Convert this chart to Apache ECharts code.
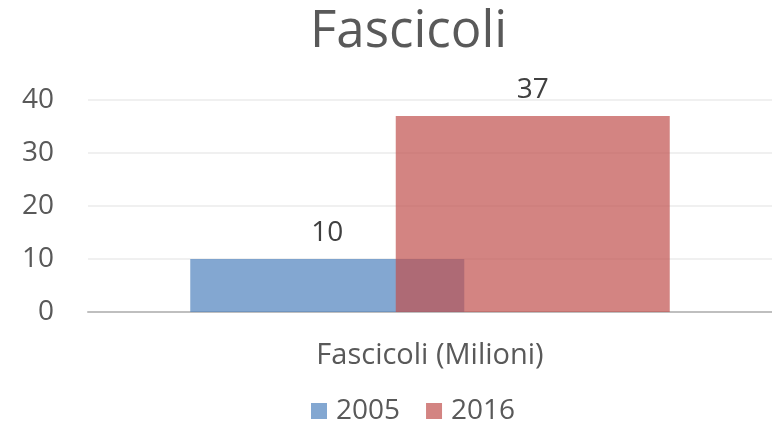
<!DOCTYPE html>
<html><head><meta charset="utf-8">
<script src="https://cdn.jsdelivr.net/npm/echarts@6/dist/echarts.min.js"></script>
<style>html,body{margin:0;padding:0;background:#fff}#c{width:772px;height:428px}</style>
</head><body><div id="c"></div>
<script>
const categories = ['Fascicoli (Milioni)'];
const seriesNames = ['2005', '2016'];
const values2005 = [10];
const values2016 = [37];
const yTicks = [0, 10, 20, 30, 40];

const font = '"Open Sans", sans-serif';
const chart = echarts.init(document.getElementById('c'));
chart.setOption({
  animation: false,
  title: { text: 'Fascicoli', left: 305, top: 2, textStyle: { fontFamily: font, fontSize: 51, fontWeight: 'normal', color: '#595959' } },
  legend: { bottom: -2, left: 306, itemWidth: 16, itemHeight: 16, itemGap: 26, icon: 'rect',
    textStyle: { fontFamily: font, fontSize: 28, color: '#595959', padding: [0, 0, 0, 4] }, data: seriesNames },
  grid: { left: 88, right: 0, top: 100, bottom: 116 },
  xAxis: { type: 'category', data: categories,
    axisLine: { lineStyle: { color: '#bfbfbf', width: 2 } }, axisTick: { show: false },
    axisLabel: { fontFamily: font, fontSize: 29, color: '#595959', margin: 29 } },
  yAxis: { type: 'value', min: yTicks[0], max: yTicks[yTicks.length - 1], interval: 10,
    axisLine: { show: false }, axisTick: { show: false },
    axisLabel: { fontFamily: font, fontSize: 28, color: '#595959', margin: 34 },
    splitLine: { lineStyle: { color: '#f0f0f0', width: 2 } } },
  series: [
    { name: seriesNames[0], type: 'bar', data: values2005, barWidth: 274, barGap: '-25%',
      itemStyle: { color: 'rgba(79,129,189,0.7)' },
      label: { show: true, position: 'top', distance: 12, fontFamily: font, fontSize: 28, color: '#404040' } },
    { name: seriesNames[1], type: 'bar', data: values2016, barWidth: 274, barGap: '-25%',
      itemStyle: { color: 'rgba(192,80,77,0.7)' },
      label: { show: true, position: 'top', distance: 12, fontFamily: font, fontSize: 28, color: '#404040' } }
  ]
});
</script></body></html>
